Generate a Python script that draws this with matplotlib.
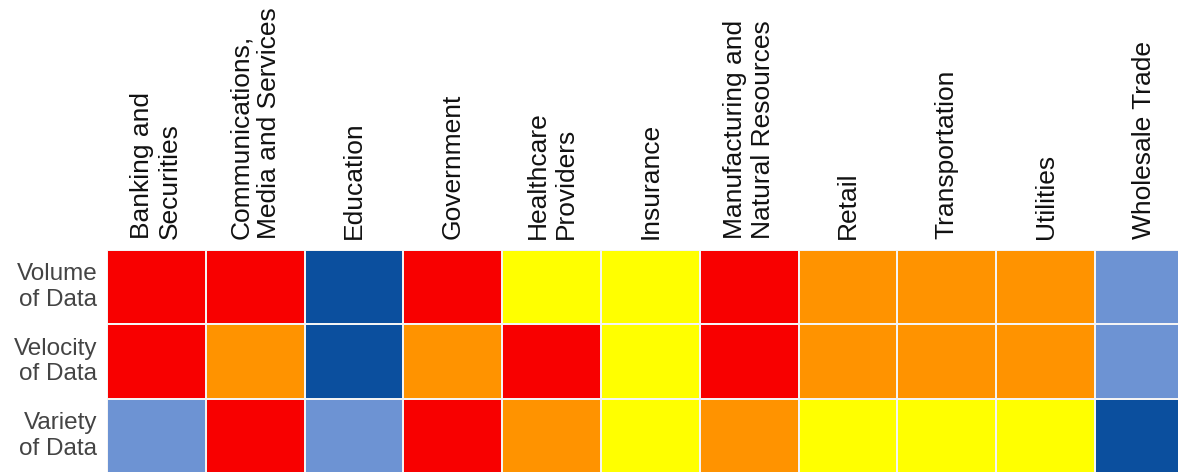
import numpy as np
import matplotlib.pyplot as plt
from matplotlib.colors import ListedColormap

industries = ["Banking and\nSecurities", "Communications,\nMedia and Services", "Education",
              "Government", "Healthcare\nProviders", "Insurance",
              "Manufacturing and\nNatural Resources", "Retail", "Transportation",
              "Utilities", "Wholesale Trade"]
dimensions = ["Volume\nof Data", "Velocity\nof Data", "Variety\nof Data"]

# 0 = very low (dark blue), 1 = low (light blue), 2 = medium (yellow), 3 = high (orange), 4 = very high (red)
volume = [4, 4, 0, 4, 2, 2, 4, 3, 3, 3, 1]
velocity = [4, 3, 0, 3, 4, 2, 4, 3, 3, 3, 1]
variety = [1, 4, 1, 4, 3, 2, 3, 2, 2, 2, 0]

level_colors = ["#0B4F9E", "#6D93D3", "#FFFF00", "#FF9300", "#F80000"]

plt.rcParams['font.family'] = ['Liberation Sans', 'DejaVu Sans']

fig = plt.figure(figsize=(11.78, 4.72), dpi=100)
ax = fig.add_axes([107 / 1178, -1 / 472, 11 * 98.8 / 1178, 223 / 472])

grid = np.array([volume, velocity, variety])
ax.pcolormesh(grid, cmap=ListedColormap(level_colors), vmin=-0.5, vmax=4.5,
              edgecolors="#F4F4F4", linewidth=1.3)
ax.set_xlim(0, len(industries))
ax.set_ylim(len(dimensions), 0)

ax.xaxis.tick_top()
ax.set_xticks(np.arange(len(industries)) + 0.5)
ax.set_xticklabels(industries, rotation=90, ha="center", va="bottom",
                   multialignment="left", fontsize=19, color="#111111")
ax.set_yticks(np.arange(len(dimensions)) + 0.5)
ax.set_yticklabels(dimensions, ha="right", va="center", multialignment="right",
                   fontsize=17.5, color="#444444")
ax.tick_params(axis="x", length=0, pad=8)
ax.tick_params(axis="y", length=0, pad=7)
for s in ax.spines.values():
    s.set_visible(False)

fig.savefig("out.png", dpi=100, facecolor="white")
